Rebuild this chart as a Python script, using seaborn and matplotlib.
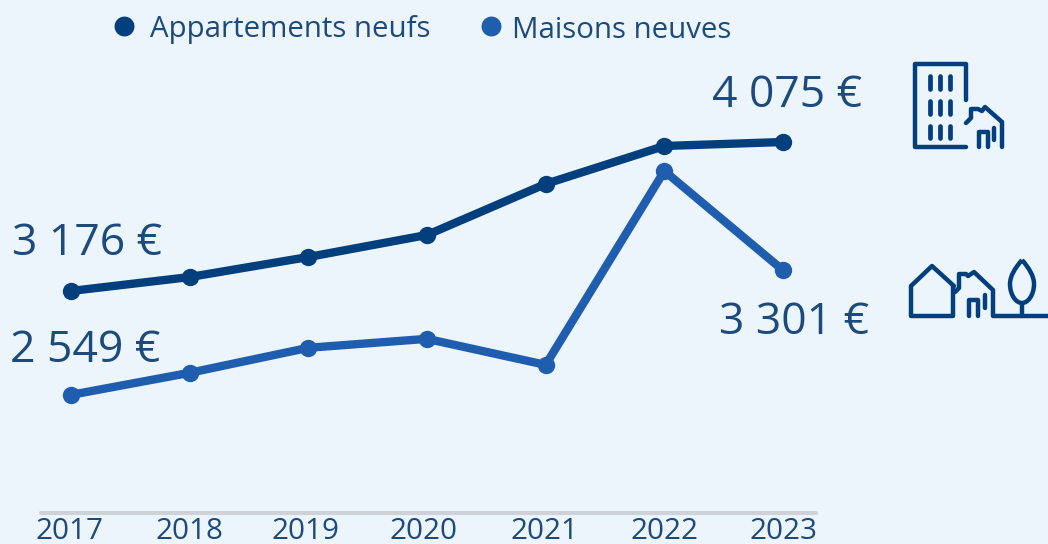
import matplotlib
matplotlib.use("Agg")
import matplotlib.pyplot as plt
from matplotlib.patches import PathPatch
from matplotlib.path import Path
from matplotlib.transforms import ScaledTranslation
import pandas as pd
import seaborn as sns

years = [2017, 2018, 2019, 2020, 2021, 2022, 2023]
appartements = [3176, 3260, 3381, 3514, 3822, 4051, 4075]
maisons = [2549, 2682, 2833, 2887, 2730, 3900, 3301]
series_names = ["Appartements neufs", "Maisons neuves"]

BG = "#ECF4FC"; DARK = "#033F7C"; BLUE = "#1F5DAE"; TXT = "#1C4A7C"; ICON = "#033F7C"
W, H = 1048, 544

sns.set_theme(style="white")
plt.rcParams["font.family"] = ["Open Sans", "DejaVu Sans"]

df = pd.DataFrame({"year": years * 2,
                   "value": appartements + maisons,
                   "serie": [series_names[0]] * 7 + [series_names[1]] * 7})

fig = plt.figure(figsize=(W / 100, H / 100), dpi=100, facecolor=BG)
ax = fig.add_axes([41 / W, (H - 513) / H, 775 / W, 513 / H], facecolor="none")
sns.lineplot(data=df, x="year", y="value", hue="serie", palette=[DARK, BLUE], marker="o",
             linewidth=6, markersize=12.5, markeredgewidth=0, legend=False, ax=ax,
             solid_capstyle="round", errorbar=None)
ax.set_xlim(2017 - 30 / 118.67, 2023 + 33 / 118.67)
ax.set_ylim(1836, 4932)
ax.set_xticks(years)
ax.set_xticklabels([str(y) for y in years], fontsize=21.3, color=TXT)
ax.set_yticks([])
ax.set_xlabel(""); ax.set_ylabel("")
ax.tick_params(axis="x", length=0, pad=3)
# the reference's year labels sit slightly off the point positions
for t, dx in zip(ax.get_xticklabels(), [-1, 0, -3, -4, -1, 0, 0]):
    t.set_transform(t.get_transform() + ScaledTranslation(dx / 100, 0, fig.dpi_scale_trans))
for s in ["top", "left", "right"]:
    ax.spines[s].set_visible(False)
ax.spines["bottom"].set_color("#CDD3D8")
ax.spines["bottom"].set_linewidth(3)
ax.spines["bottom"].set_capstyle("round")

# Value labels
ov = fig.add_axes([0, 0, 1, 1], facecolor="none")
ov.set_xlim(0, W); ov.set_ylim(H, 0); ov.axis("off")
lab = dict(fontsize=32, color=TXT, va="center", ha="center")
ov.text(87, 244, "3 176 €", **lab)
ov.text(85, 351, "2 549 €", **lab)
ov.text(787, 96, "4 075 €", **lab)
ov.text(794, 323, "3 301 €", **lab)

# Legend
ov.scatter([124], [26], s=205, color=DARK, linewidth=0)
ov.scatter([491], [26], s=205, color=BLUE, linewidth=0)
ov.text(150, 30, series_names[0], fontsize=21.2, color=TXT, va="center", ha="left")
ov.text(512, 30, series_names[1], fontsize=21.2, color=TXT, va="center", ha="left")

# Icons
def stroke(pts, lw=3.2):
    xs, ys = zip(*pts)
    ov.plot(xs, ys, color=ICON, lw=lw, solid_capstyle="round", solid_joinstyle="round")

# building + house
stroke([(966, 100), (966, 64), (915, 64), (915, 147), (966, 147)])
for x in (930, 940, 950):
    for y0, y1 in ((76, 89), (101, 114), (126, 138)):
        stroke([(x, y0), (x, y1)], lw=3.4)
stroke([(966, 123), (971, 118), (971, 109), (978, 109), (982, 111), (985, 107),
        (1002, 122), (1002, 147)])
stroke([(979, 147), (979, 132), (988, 132), (988, 147)])
stroke([(994, 128), (994, 140)])

# houses + tree
stroke([(954, 286), (932, 266), (911, 286), (911, 316), (953, 316), (953, 286)])
stroke([(955, 292), (959, 288), (959, 274), (966, 274), (968, 276), (974, 272),
        (993, 290), (993, 316), (1048, 316)])
stroke([(969, 316), (969, 300), (978, 300), (978, 316)])
stroke([(985, 295), (985, 308)])
stroke([(1022, 316), (1022, 303)])
tree = Path([(1022, 260), (1029, 268), (1034, 276), (1034, 284), (1034, 295), (1028, 303), (1022, 303),
             (1016, 303), (1010, 295), (1010, 284), (1010, 276), (1015, 268), (1022, 260)],
            [Path.MOVETO] + [Path.CURVE4] * 12)
ov.add_patch(PathPatch(tree, fill=False, edgecolor=ICON, lw=3.2))

fig.savefig("out.png", dpi=100, facecolor=BG)
